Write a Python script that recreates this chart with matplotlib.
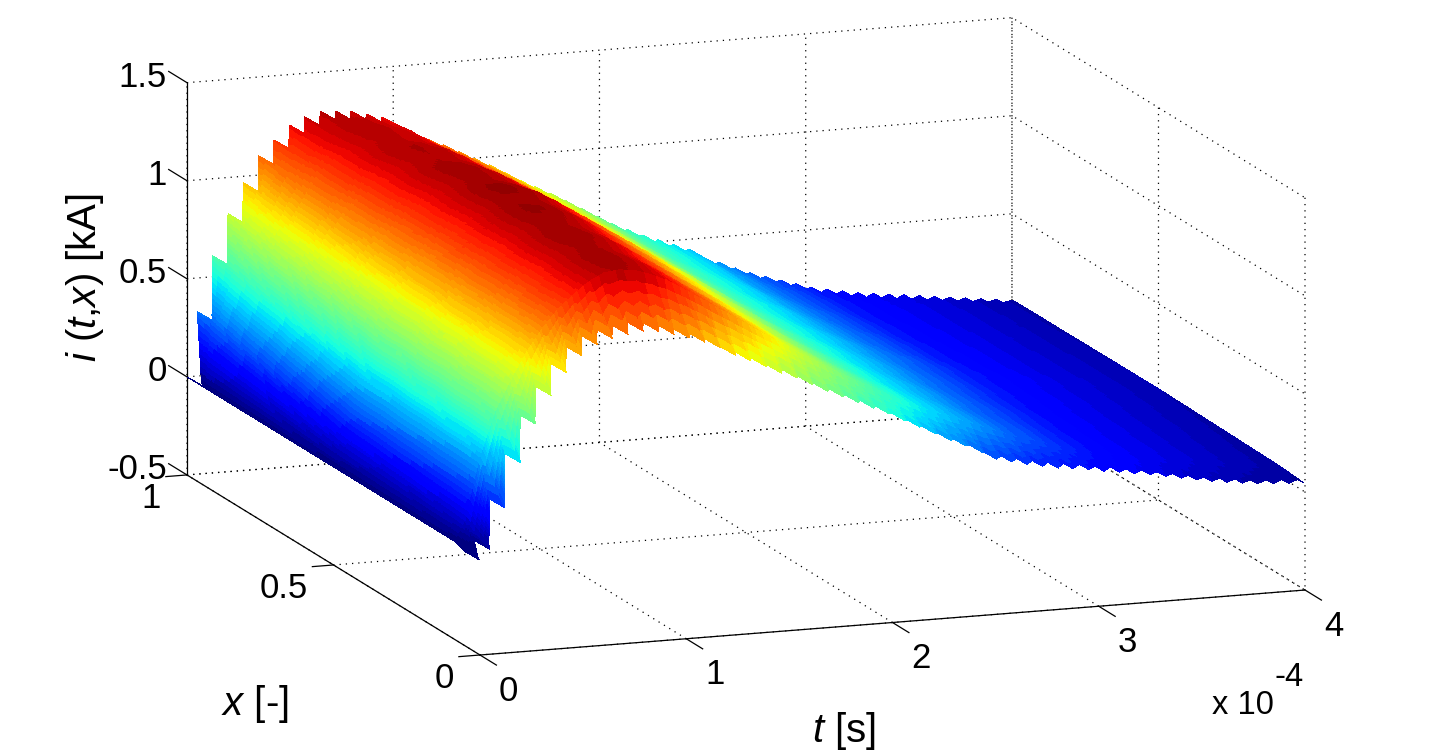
import numpy as np
import matplotlib
matplotlib.use("Agg")
import matplotlib.pyplot as plt
from matplotlib.transforms import ScaledTranslation
from mpl_toolkits.mplot3d import proj3d

plt.rcParams['font.family'] = ['Liberation Sans', 'DejaVu Sans']
plt.rcParams['mathtext.fontset'] = 'custom'
plt.rcParams['mathtext.rm'] = 'Liberation Sans'
plt.rcParams['mathtext.it'] = 'Liberation Sans:italic'

# ---- values (t in 1e-4 s, i in kA) ----
t_samples = [0, .05, .124, .199, .273, .348, .422, .497, .572, .646, .721, .795, .87, .944,
             1.019, 1.093, 1.168, 1.242, 1.317, 1.391, 1.466, 1.54, 1.615, 1.689, 1.764, 1.838,
             1.913, 1.987, 2.062, 2.136, 2.211, 2.285, 2.36, 2.434, 2.509, 2.583, 2.658, 2.732,
             2.807, 2.881, 2.956, 3.03, 3.105, 3.179, 3.254, 3.328, 3.403, 3.477, 3.552, 3.626,
             3.701, 3.775, 3.85, 3.924, 3.999]
i_front = [-.02, .03, .235, .46, .65, .79, .90, .98, 1.03, 1.055, 1.07, 1.08, 1.072, 1.052, 1.027, 1.0,
           .965, .92, .885, .85, .81, .78, .74, .70, .665, .63, .595, .56, .52, .48, .44, .40, .365,
           .33, .285, .265, .245, .23, .215, .205, .195, .18, .17, .155, .145, .13, .115, .10, .085,
           .075, .065, .055, .05, .045, .04]
i_near = [0, .1, .42, .65, .80, .94, 1.05, 1.14, 1.21, 1.27, 1.31, 1.32, 1.31, 1.285, 1.25, 1.205, 1.155,
          1.105, 1.055, 1.005, .955, .905, .855, .805, .76, .715, .67, .63, .59, .55, .515, .48, .45,
          .42, .39, .36, .33, .30, .28, .255, .23, .21, .19, .175, .16, .145, .135, .125, .115, .10,
          .09, .08, .07, .06, .05]
i_mid = [0, .15, .45, .68, .85, 1.0, 1.09, 1.17, 1.23, 1.28, 1.32, 1.34, 1.34, 1.325, 1.295, 1.25, 1.20,
         1.15, 1.10, 1.05, 1.0, .95, .90, .85, .80, .75, .70, .65, .605, .565, .53, .50, .47, .44,
         .41, .38, .35, .325, .30, .275, .25, .225, .205, .19, .175, .16, .15, .135, .125, .115,
         .105, .095, .085, .075, .065]
i_back = [0, .328, .607, .815, .967, 1.098, 1.173, 1.243, 1.278, 1.302, 1.296, 1.289, 1.268, 1.246,
          1.195, 1.149, 1.115, 1.08, 1.04, 1.0, .96, .915, .87, .83, .79, .745, .70, .655, .61,
          .575, .54, .51, .48, .45, .40, .37, .335, .305, .28, .255, .23, .205, .19, .175, .16,
          .15, .14, .13, .12, .11, .10, .09, .08, .07, .06]
x_near, x_mid = .085, .5       # positions of the two inner rows
x_front_tip, x_back_tip = .005, 1.0
# how deep the edge teeth are along x, read at a few times
tooth_t = [0, 1.2, 2.2, 3.0, 4.0]
tooth_dx = [.05, .05, .04, .03, .02]
# small waviness of the colour bands across x, as seen in the reference (kA at the peak)
ripple_x = [.085, .15, .21, .27, .33, .40, .46, .52, .58, .65, .71, .77, .83, .90, .95]
ripple_i = [0, .007, -.005, .008, -.006, .007, -.007, .006, -.008, .007, -.005, .008, -.006, .006, 0]

t_ticks = [0, 1, 2, 3, 4]
x_ticks = [0, .5, 1]
z_ticks = [-.5, 0, .5, 1, 1.5]
t_ticklabels = ['0', '1', '2', '3', '4']
x_ticklabels = ['0', '0.5', '1']
z_ticklabels = ['-0.5', '0', '0.5', '1', '1.5']

# ---- mesh: every sample column is doubled so the two long edges are toothed;
# each facet is then subdivided to stand in for MATLAB's interpolated shading ----
t_s = np.array(t_samples)
rows = np.array([i_front, i_near, i_mid, i_back])
n = len(t_s)
cols = []
for k in range(n):
    cols.append((t_s[k], rows[:, k], 0.0))
    cols.append((t_s[k] + .004, rows[:, k], 1.0))
    if k < n - 1:
        sub_t = 12 if k < 14 else 5
        for s in range(1, sub_t):
            f = s / sub_t
            cols.append((t_s[k] * (1 - f) + t_s[k + 1] * f,
                         rows[:, k] * (1 - f) + rows[:, k + 1] * f, 1 - f))
x_inner = np.linspace(x_near, .93, 90)
front_frac = np.linspace(0, 1, 6)[:-1]
back_frac = np.linspace(0, 1, 4)[1:]
nrow = len(front_frac) + len(x_inner) + len(back_frac)
T = np.zeros((nrow, len(cols)))
X = np.zeros_like(T)
Z = np.zeros_like(T)
for c, (tc, col, notch) in enumerate(cols):
    depth = np.interp(tc, tooth_t, tooth_dx)
    xf = x_front_tip + depth * (1 - notch)   # notch comes before the tip on the front edge
    xb = x_back_tip - depth * notch          # and after the tip on the back edge
    xj = np.concatenate([xf + (x_near - xf) * front_frac, x_inner, .93 + (xb - .93) * back_frac])
    z = np.interp(xj, [xf, x_near, x_mid, xb], col)
    Z[:, c] = z + np.interp(xj, ripple_x, ripple_i) * z / 1.3
    X[:, c] = xj
    T[:, c] = tc

fig = plt.figure(figsize=(14.4, 7.53), dpi=100, facecolor='white')
ax = fig.add_axes([0.1, 0.0, 753 / 1440, 1.0], projection='3d', facecolor='none')
ax.set_proj_type('ortho')
ax.view_init(elev=12.71, azim=-109.7)
ax.set_box_aspect((876, 869, 402))
ax.set_xlim(0, 4)
ax.set_ylim(0, 1)
ax.set_zlim(-.5, 1.5)

jet64 = plt.get_cmap('jet', 64)
ax.plot_surface(T, X, Z, rstride=1, cstride=1, cmap=jet64, vmin=0, vmax=1.38,
                linewidth=0, antialiased=False, shade=False)

ax.set_xticks(t_ticks, t_ticklabels)
ax.set_yticks(x_ticks, x_ticklabels)
ax.set_zticks(z_ticks, z_ticklabels)
ax.zaxis._get_tickdir = lambda pos: 1      # z ticks run along x, as in the reference
for a, factor in ((ax.xaxis, -.7), (ax.yaxis, -.32), (ax.zaxis, .78)):
    a.set_pane_color((1, 1, 1, 0))
    a.pane.set_edgecolor('none')
    a._axinfo['grid'].update(color='k', linestyle=(0, (1, 4)), linewidth=0.9)
    a._axinfo['tick'].update(inward_factor=0, outward_factor=factor, linewidth={True: 0.9, False: 0.9})
    a._axinfo['axisline']['color'] = 'k'
    a.line.set_linewidth(0.9)
ax.tick_params(axis='x', labelsize=25, pad=11)
ax.tick_params(axis='y', labelsize=25, pad=8)
ax.tick_params(axis='z', labelsize=25, pad=0.5)
for lab in ax.get_xticklabels():
    lab.set_ha('left')
for lab in ax.get_yticklabels():
    lab.set_ha('right')
for lab in ax.get_zticklabels():
    lab.set_ha('right')

# fine offset (pixels) of the tick labels
def nudge(axis, dx, dy):
    for tick in axis.get_major_ticks():
        tick.label1.set_transform(ax.transData + ScaledTranslation(dx / 100, dy / 100, fig.dpi_scale_trans))
        tick.label1.set_transform = lambda *_: None
nudge(ax.xaxis, 7, 3.5)
nudge(ax.yaxis, 2, 8)
nudge(ax.zaxis, 0, 20)

# place the square axes so the two front floor corners land on the reference pixels
fig.canvas.draw()
def px(t, x, z):
    xs, ys, _ = proj3d.proj_transform(t, x, z, ax.get_proj())
    return ax.transData.transform((xs, ys))
p0, p1 = px(0, 0, -.5), px(4, 0, -.5)
target0 = np.array([480, 753 - 655])
target1 = np.array([1305, 753 - 590])
scale = (target1[0] - target0[0]) / (p1[0] - p0[0])
bb = ax.get_position()
w_px, h_px = bb.width * 1440 * scale, bb.height * 753 * scale
cx, cy = bb.x0 * 1440 + bb.width * 720, bb.y0 * 753 + bb.height * 376.5
ncx = target0[0] + (cx - p0[0]) * scale
ncy = target0[1] + (cy - p0[1]) * scale
ax.set_position([(ncx - w_px / 2) / 1440, (ncy - h_px / 2) / 753, w_px / 1440, h_px / 753])

fig.text(85 / 1440, 1 - 277 / 753, r'$i$ ($t$,$x$) [kA]', rotation=90, ha='center', va='center', fontsize=29)
fig.text(255 / 1440, 1 - 704 / 753, r'$x$ [-]', ha='center', va='center', fontsize=29)
fig.text(844 / 1440, 1 - 731 / 753, r'$t$ [s]', ha='center', va='center', fontsize=29)
fig.text(1212 / 1440, 1 - 706 / 753, 'x 10', ha='left', va='center', fontsize=23.5)
fig.text(1274 / 1440, 1 - 678 / 753, '-4', ha='left', va='center', fontsize=23.5)

fig.savefig('out.png', dpi=100)
